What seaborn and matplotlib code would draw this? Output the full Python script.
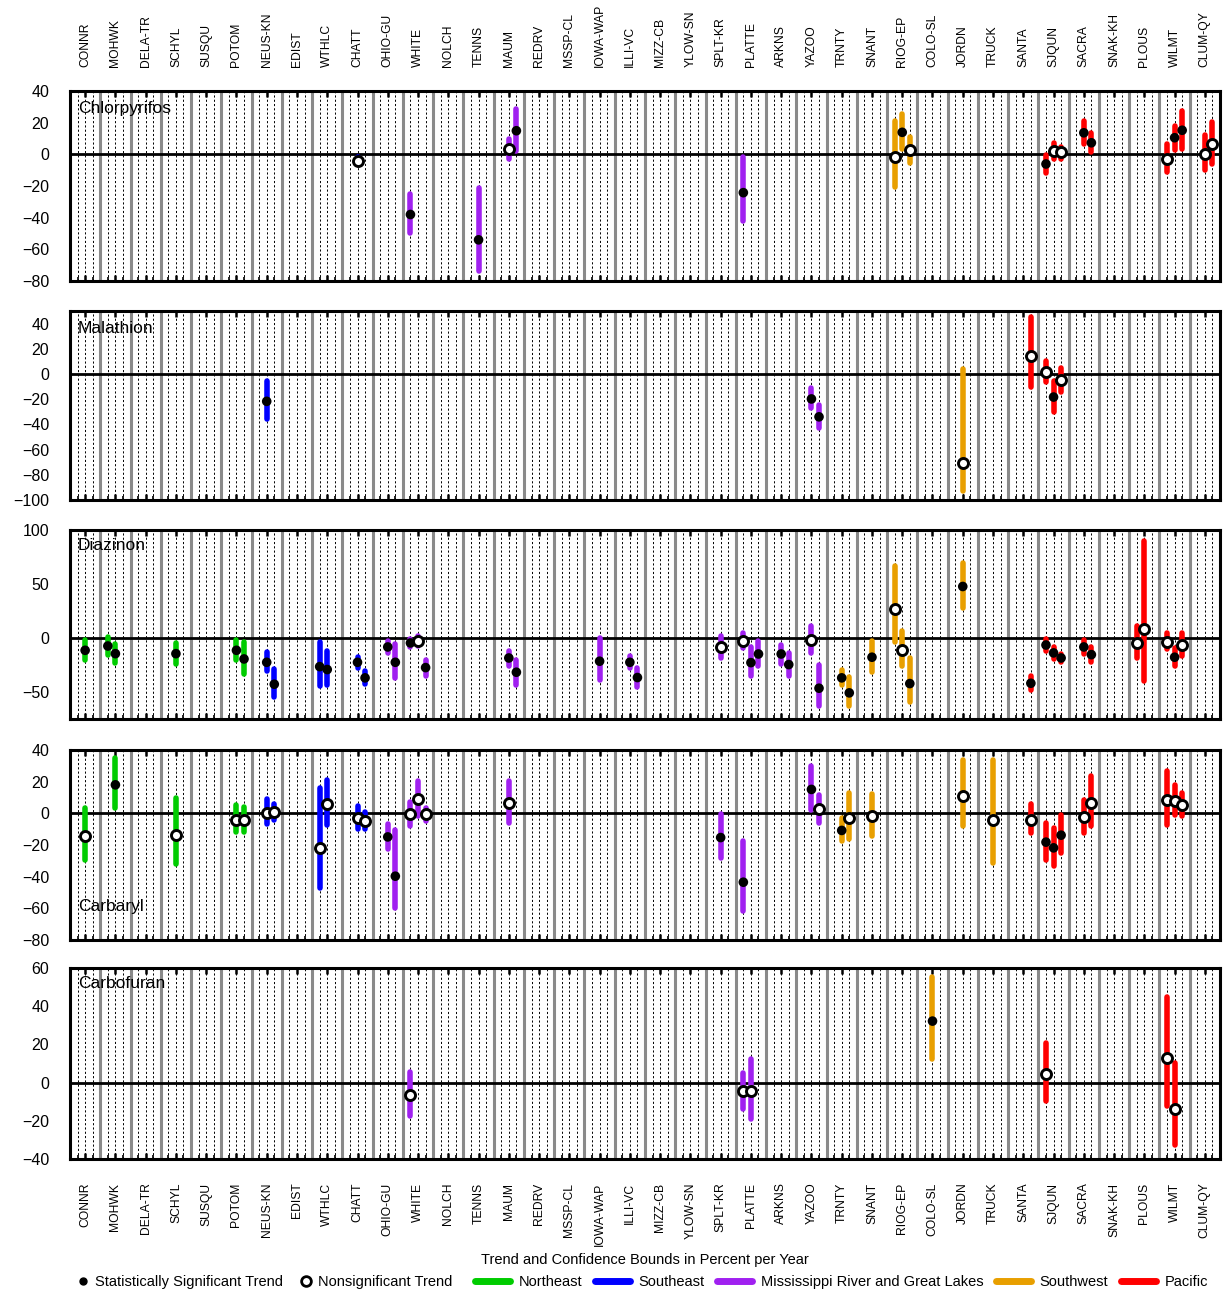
import matplotlib
matplotlib.use("Agg")
import matplotlib.pyplot as plt
import seaborn as sns
import pandas as pd
from matplotlib.lines import Line2D

# ---------------- data ----------------
sites = ["CONNR", "MOHWK", "DELA-TR", "SCHYL", "SUSQU", "POTOM", "NEUS-KN", "EDIST",
         "WTHLC", "CHATT", "OHIO-GU", "WHITE", "NOLCH", "TENNS", "MAUM", "REDRV",
         "MSSP-CL", "IOWA-WAP", "ILLI-VC", "MIZZ-CB", "YLOW-SN", "SPLT-KR", "PLATTE",
         "ARKNS", "YAZOO", "TRNTY", "SNANT", "RIOG-EP", "COLO-SL", "JORDN", "TRUCK",
         "SANTA", "SJQUN", "SACRA", "SNAK-KH", "PLOUS", "WILMT", "CLUM-QY"]

region_names = ["Northeast", "Southeast", "Mississippi River and Great Lakes",
                "Southwest", "Pacific"]
region_colors = ["#00CC00", "#0000FF", "#A020F0", "#E89F00", "#FF0000"]
northeast = ["CONNR", "MOHWK", "DELA-TR", "SCHYL", "SUSQU", "POTOM"]
southeast = ["NEUS-KN", "EDIST", "WTHLC", "CHATT"]
mississippi = ["OHIO-GU", "WHITE", "NOLCH", "TENNS", "MAUM", "REDRV", "MSSP-CL",
               "IOWA-WAP", "ILLI-VC", "MIZZ-CB", "YLOW-SN", "SPLT-KR", "PLATTE",
               "ARKNS", "YAZOO"]
southwest = ["TRNTY", "SNANT", "RIOG-EP", "COLO-SL", "JORDN", "TRUCK"]
pacific = ["SANTA", "SJQUN", "SACRA", "SNAK-KH", "PLOUS", "WILMT", "CLUM-QY"]

# (site, sub-position, trend, lower bound, upper bound, significant)
chlorpyrifos = [
    ("CHATT", 0, -4.0, -6.0, -2.0, False),
    ("WHITE", -1, -38.0, -49.5, -25.0, True),
    ("TENNS", 0, -54.0, -73.5, -21.0, True),
    ("MAUM", 0, 3.3, -3.2, 9.7, False),
    ("MAUM", 1, 14.9, 2.3, 28.4, True),
    ("PLATTE", -1, -24.2, -41.9, -1.9, True),
    ("RIOG-EP", -1, -1.9, -20.9, 21.2, False),
    ("RIOG-EP", 0, 13.9, 3.3, 25.3, True),
    ("RIOG-EP", 1, 2.7, -5.3, 10.9, False),
    ("SJQUN", -1, -6.1, -11.6, -0.6, True),
    ("SJQUN", 0, 2.1, -3.2, 6.9, False),
    ("SJQUN", 1, 1.3, -2.8, 4.8, False),
    ("SACRA", 0, 13.6, 6.5, 21.2, True),
    ("SACRA", 1, 7.3, 1.5, 13.5, True),
    ("WILMT", -1, -3.0, -11.0, 6.3, False),
    ("WILMT", 0, 10.5, 2.9, 18.1, True),
    ("WILMT", 1, 15.2, 3.5, 27.5, True),
    ("CLUM-QY", 0, 0.4, -9.9, 12.2, False),
    ("CLUM-QY", 1, 6.7, -6.1, 20.6, False),
]

malathion = [
    ("NEUS-KN", 0, -21.7, -35.7, -5.6, True),
    ("YAZOO", 0, -19.8, -27.0, -11.0, True),
    ("YAZOO", 1, -34.0, -43.0, -24.6, True),
    ("JORDN", 0, -70.6, -92.9, 3.7, False),
    ("SANTA", 1, 14.3, -10.0, 45.0, False),
    ("SJQUN", -1, 1.6, -6.6, 10.0, False),
    ("SJQUN", 0, -18.3, -29.9, -5.3, True),
    ("SJQUN", 1, -5.0, -14.5, 4.8, False),
]

diazinon = [
    ("CONNR", 0, -11.4, -20.6, -1.5, True),
    ("MOHWK", -1, -7.4, -15.7, 0.6, True),
    ("MOHWK", 0, -14.5, -23.1, -5.8, True),
    ("SCHYL", 0, -14.5, -24.3, -4.6, True),
    ("POTOM", 0, -11.4, -20.6, -1.5, True),
    ("POTOM", 1, -19.4, -33.0, -4.0, True),
    ("NEUS-KN", 0, -22.5, -30.8, -13.2, True),
    ("NEUS-KN", 1, -42.8, -54.8, -28.3, True),
    ("WTHLC", -1, -26.5, -44.3, -4.0, True),
    ("WTHLC", 0, -29.2, -43.1, -12.0, True),
    ("CHATT", 0, -22.5, -27.4, -17.5, True),
    ("CHATT", 1, -36.9, -42.2, -30.7, True),
    ("OHIO-GU", 0, -8.3, -13.5, -2.8, True),
    ("OHIO-GU", 1, -22.5, -36.6, -5.8, True),
    ("WHITE", -1, -4.6, -8.0, -1.0, True),
    ("WHITE", 0, -2.8, -7.1, 2.1, False),
    ("WHITE", 1, -27.4, -34.8, -20.6, True),
    ("MAUM", 0, -18.5, -25.6, -11.7, True),
    ("MAUM", 1, -31.7, -43.1, -20.0, True),
    ("IOWA-WAP", 0, -21.5, -38.8, -0.3, True),
    ("ILLI-VC", 0, -22.5, -27.4, -16.3, True),
    ("ILLI-VC", 1, -36.6, -45.5, -27.4, True),
    ("SPLT-KR", 0, -8.3, -18.2, 1.6, False),
    ("PLATTE", -1, -2.8, -9.5, 4.9, False),
    ("PLATTE", 0, -22.8, -35.1, -8.6, True),
    ("PLATTE", 1, -14.8, -25.8, -3.1, True),
    ("ARKNS", 0, -14.8, -23.7, -6.8, True),
    ("ARKNS", 1, -24.6, -35.1, -13.5, True),
    ("YAZOO", 0, -1.5, -13.5, 10.8, False),
    ("YAZOO", 1, -46.5, -62.8, -24.6, True),
    ("TRNTY", 0, -36.9, -43.4, -29.2, True),
    ("TRNTY", 1, -50.8, -62.8, -36.3, True),
    ("SNANT", 0, -17.8, -31.4, -2.8, True),
    ("RIOG-EP", -1, 27.0, -3.7, 66.5, False),
    ("RIOG-EP", 0, -10.8, -25.6, 6.5, False),
    ("RIOG-EP", 1, -42.2, -59.4, -18.5, True),
    ("JORDN", 0, 47.7, 27.7, 69.9, True),
    ("SANTA", 1, -41.9, -48.0, -35.4, True),
    ("SJQUN", -1, -6.5, -12.0, -0.9, True),
    ("SJQUN", 0, -13.8, -19.7, -8.0, True),
    ("SJQUN", 1, -18.5, -22.5, -14.5, True),
    ("SACRA", 0, -8.3, -14.5, -2.1, True),
    ("SACRA", 1, -15.4, -22.2, -8.6, True),
    ("PLOUS", -1, -4.9, -18.5, 11.0, False),
    ("PLOUS", 0, 8.0, -40.0, 90.2, False),
    ("WILMT", -1, -3.7, -9.9, 4.3, False),
    ("WILMT", 0, -17.8, -25.6, -9.2, True),
    ("WILMT", 1, -6.5, -16.3, 4.6, False),
]

carbaryl = [
    ("CONNR", 0, -14.6, -29.4, 3.1, False),
    ("MOHWK", 0, 18.0, 3.5, 34.7, True),
    ("SCHYL", 0, -13.8, -32.3, 9.6, False),
    ("POTOM", 0, -3.9, -11.9, 5.0, False),
    ("POTOM", 1, -3.9, -11.5, 4.1, False),
    ("NEUS-KN", 0, 0.3, -7.0, 8.8, False),
    ("NEUS-KN", 1, 1.0, -3.9, 5.8, False),
    ("WTHLC", -1, -21.8, -47.1, 15.7, False),
    ("WTHLC", 0, 5.8, -7.5, 21.0, False),
    ("CHATT", 0, -2.8, -9.8, 4.4, False),
    ("CHATT", 1, -4.7, -10.2, 1.0, False),
    ("OHIO-GU", 0, -14.9, -22.5, -6.6, True),
    ("OHIO-GU", 1, -39.7, -60.0, -10.8, True),
    ("WHITE", -1, -0.7, -7.9, 7.3, False),
    ("WHITE", 0, 9.2, -1.8, 20.6, False),
    ("WHITE", 1, -0.7, -4.9, 3.5, False),
    ("MAUM", 0, 6.6, -6.0, 20.6, False),
    ("SPLT-KR", 0, -15.3, -27.9, -0.7, True),
    ("PLATTE", -1, -43.5, -61.9, -17.4, True),
    ("YAZOO", 0, 15.1, 1.8, 30.0, True),
    ("YAZOO", 1, 2.7, -6.2, 11.5, False),
    ("TRNTY", 0, -10.8, -17.6, -3.2, True),
    ("TRNTY", 1, -2.8, -16.5, 13.0, False),
    ("SNANT", 0, -1.6, -14.4, 12.3, False),
    ("JORDN", 0, 10.9, -7.9, 33.5, False),
    ("TRUCK", 0, -4.1, -31.1, 33.5, False),
    ("SANTA", 1, -3.9, -12.3, 5.6, False),
    ("SJQUN", -1, -18.2, -29.2, -6.0, True),
    ("SJQUN", 0, -21.8, -33.0, -9.2, True),
    ("SJQUN", 1, -13.8, -25.2, -1.1, True),
    ("SACRA", 0, -2.6, -12.7, 8.2, False),
    ("SACRA", 1, 6.5, -8.1, 23.3, False),
    ("WILMT", -1, 8.2, -7.5, 26.7, False),
    ("WILMT", 0, 7.9, -1.1, 17.8, False),
    ("WILMT", 1, 5.2, -1.6, 12.6, False),
]

carbofuran = [
    ("WHITE", -1, -6.6, -17.5, 5.4, False),
    ("PLATTE", -1, -4.4, -13.8, 4.9, False),
    ("PLATTE", 0, -4.4, -18.9, 12.5, False),
    ("COLO-SL", 0, 32.2, 12.1, 55.3, True),
    ("SJQUN", -1, 4.5, -9.6, 20.8, False),
    ("WILMT", -1, 12.8, -12.2, 44.9, False),
    ("WILMT", 0, -14.0, -32.8, 10.2, False),
]

chemicals = ["Chlorpyrifos", "Malathion", "Diazinon", "Carbaryl", "Carbofuran"]
chem_data = [chlorpyrifos, malathion, diazinon, carbaryl, carbofuran]
y_limits = [(-80, 40), (-100, 50), (-75, 100), (-80, 40), (-40, 60)]
y_ticks = [list(range(-80, 41, 20)), list(range(-100, 41, 20)), [-50, 0, 50, 100],
           list(range(-80, 41, 20)), list(range(-40, 61, 20))]

# ---------------- styling ----------------
sns.set_theme(style="white")
plt.rcParams["font.family"] = ["Liberation Sans", "DejaVu Sans"]

site_region = {}
for members, col in zip([northeast, southeast, mississippi, southwest, pacific], region_colors):
    for s in members:
        site_region[s] = col

W, H = 1224, 1294
fig = plt.figure(figsize=(W / 100, H / 100), dpi=100)
panel_px = [(91, 281), (311, 500), (530, 719), (750, 940), (968, 1159)]
left_px, right_px = 70, 1220
label_pos = [0.91, 0.91, 0.92, 0.174, 0.92]

site_idx = {s: i for i, s in enumerate(sites)}

for p, (chem, rows) in enumerate(zip(chemicals, chem_data)):
    top, bot = panel_px[p]
    ax = fig.add_axes([left_px / W, 1 - bot / H, (right_px - left_px) / W, (bot - top) / H])
    df = pd.DataFrame(rows, columns=["site", "sub", "trend", "lo", "hi", "sig"])
    df["x"] = df["site"].map(site_idx) + df["sub"] * 0.25
    df["color"] = df["site"].map(site_region)

    # grid: site boundaries and sub-position dotted lines
    for i in range(len(sites) - 1):
        ax.axvline(i + 0.5, color="#8a8a8a", lw=2.2, zorder=1)
    for i in range(len(sites)):
        for k in (-1, 0, 1):
            ax.axvline(i + k * 0.25, color="black", lw=0.7, ls=(0, (2.2, 2.2)), zorder=1)
    ax.axhline(0, color="black", lw=2.0, zorder=2)

    # confidence bars
    for _, r in df.iterrows():
        ax.plot([r["x"], r["x"]], [r["lo"], r["hi"]], color=r["color"], lw=4,
                solid_capstyle="round", zorder=3)

    sig = df[df["sig"]]
    non = df[~df["sig"]]
    if len(sig):
        sns.scatterplot(data=sig, x="x", y="trend", ax=ax, color="black", s=48,
                        marker="o", edgecolor="none", legend=False, zorder=5)
    if len(non):
        sns.scatterplot(data=non, x="x", y="trend", ax=ax, color="white", s=52,
                        marker="o", edgecolor="black", linewidth=2.1, legend=False, zorder=5)

    ax.set_xlim(-0.5, len(sites) - 0.5)
    ax.set_ylim(*y_limits[p])
    ax.set_yticks(y_ticks[p])
    ax.set_xticks(range(len(sites)))
    ax.set_xticks([i + k * 0.25 for i in range(len(sites)) for k in (-1, 1)], minor=True)
    ax.set_xlabel("")
    ax.set_ylabel("")
    ax.tick_params(axis="y", direction="in", length=4, width=1.5, labelsize=11.5, pad=15,
                   colors="black")
    ax.tick_params(axis="x", which="major", direction="in", length=4, width=1.8,
                   top=True, bottom=True, labelsize=8.7, pad=17, labelrotation=90,
                   labelbottom=False, labeltop=False, colors="black")
    ax.tick_params(axis="x", which="minor", direction="in", length=3, width=1.2,
                   bottom=True, top=False, colors="black")
    if p == 0:
        ax.set_xticklabels(sites)
        ax.tick_params(axis="x", which="major", labeltop=True)
    if p == len(chemicals) - 1:
        ax.set_xticklabels(sites)
        ax.tick_params(axis="x", which="major", labelbottom=True)
    for sp in ax.spines.values():
        sp.set_color("black")
        sp.set_linewidth(2.2)
    ax.text(0.007, label_pos[p], chem, transform=ax.transAxes, ha="left", va="center",
            fontsize=12.5, color="black", zorder=6)

fig.text((left_px + right_px) / 2 / W, 1 - 1260 / H,
         "Trend and Confidence Bounds in Percent per Year", ha="center", va="center",
         fontsize=10.5, color="black")

leg_y = 1 - 1282 / H
marker_handles = [
    Line2D([], [], ls="none", marker="o", color="black", markersize=5),
    Line2D([], [], ls="none", marker="o", markerfacecolor="white", markeredgecolor="black",
           markeredgewidth=2, markersize=7),
]
marker_labels = ["Statistically Significant Trend", "Nonsignificant Trend"]
leg1 = fig.legend(marker_handles, marker_labels, loc="center left",
                  bbox_to_anchor=(76 / W, leg_y), ncol=2, frameon=False, fontsize=10.5,
                  handlelength=0.9, handletextpad=0.4, columnspacing=1.1,
                  borderpad=0, borderaxespad=0)
line_handles = [Line2D([], [], color=c, lw=5, solid_capstyle="round") for c in region_colors]
leg2 = fig.legend(line_handles, region_names, loc="center right",
                  bbox_to_anchor=(1208 / W, leg_y), ncol=5, frameon=False, fontsize=10.5,
                  handlelength=2.4, handletextpad=0.6, columnspacing=0.85,
                  borderpad=0, borderaxespad=0)
for lg in (leg1, leg2):
    for t in lg.get_texts():
        t.set_color("black")

fig.savefig("out.png", dpi=100)
